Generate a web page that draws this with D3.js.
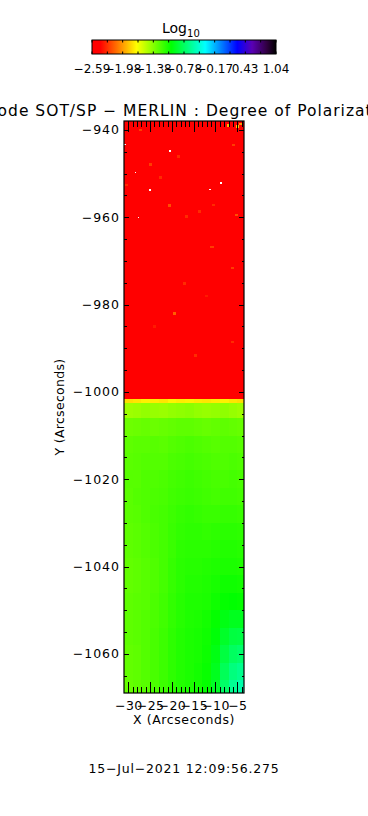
<!DOCTYPE html>
<html><head><meta charset="utf-8">
<script src="https://cdn.jsdelivr.net/npm/d3@7"></script>
<style>html,body{margin:0;padding:0;background:#fff;}svg{display:block;}text{font-family:"DejaVu Sans",sans-serif;fill:#000;}</style>
</head><body><div id="chart"></div>
<script>
// ---------------- data ----------------
const titleText = "Hinode SOT/SP \u2212 MERLIN : Degree of Polarization";
const dateText = "15\u2212Jul\u22122021  12:09:56.275";
const xLabel = "X (Arcseconds)";
const yLabel = "Y (Arcseconds)";
const xTicks = [-30, -25, -20, -15, -10, -5];
const yTicks = [-940, -960, -980, -1000, -1020, -1040, -1060];
const cbarTicks = [-2.59, -1.98, -1.38, -0.78, -0.17, 0.43, 1.04];
const cbarMin = -2.59, cbarMax = 1.04;
const xRange = [-30.99, -3.46];
const yRange = [-1068.97, -937.94];

// upper (saturated red) block
const upperTop = -937.94, upperBottom = -1001.6, upperValue = -2.56;

// lower grid: column edges (arcsec) and row edges (arcsec)
const colEdges = [-31, -29, -27, -25, -23, -21, -19, -17, -15, -13, -11, -9, -7, -5, -3];
const rowEdges = [-1001.6, -1002.6, -1006, -1010, -1014, -1018, -1022, -1026, -1030, -1034, -1038, -1042, -1046, -1050, -1054, -1058, -1062, -1066, -1070];
const lowerValues = [
  [-1.80,-1.78,-1.75,-1.76,-1.78,-1.74,-1.76,-1.75,-1.77,-1.78,-1.76,-1.75,-1.78,-1.80],
  [-1.45,-1.44,-1.42,-1.43,-1.44,-1.42,-1.41,-1.40,-1.42,-1.43,-1.42,-1.41,-1.43,-1.45],
  [-1.32,-1.31,-1.30,-1.31,-1.30,-1.29,-1.28,-1.28,-1.29,-1.30,-1.29,-1.28,-1.29,-1.30],
  [-1.28,-1.27,-1.27,-1.26,-1.27,-1.25,-1.24,-1.23,-1.24,-1.25,-1.26,-1.25,-1.25,-1.26],
  [-1.27,-1.26,-1.25,-1.25,-1.25,-1.23,-1.22,-1.21,-1.22,-1.23,-1.24,-1.24,-1.23,-1.24],
  [-1.26,-1.26,-1.24,-1.24,-1.23,-1.21,-1.20,-1.19,-1.20,-1.21,-1.22,-1.22,-1.21,-1.22],
  [-1.27,-1.25,-1.24,-1.23,-1.22,-1.20,-1.19,-1.18,-1.19,-1.20,-1.21,-1.20,-1.20,-1.21],
  [-1.27,-1.26,-1.24,-1.22,-1.21,-1.19,-1.17,-1.16,-1.17,-1.18,-1.18,-1.17,-1.17,-1.18],
  [-1.28,-1.27,-1.25,-1.23,-1.21,-1.18,-1.16,-1.15,-1.15,-1.16,-1.15,-1.14,-1.14,-1.15],
  [-1.28,-1.27,-1.25,-1.23,-1.21,-1.18,-1.15,-1.14,-1.14,-1.14,-1.13,-1.12,-1.12,-1.13],
  [-1.29,-1.28,-1.26,-1.24,-1.21,-1.17,-1.14,-1.13,-1.13,-1.12,-1.11,-1.10,-1.10,-1.11],
  [-1.29,-1.28,-1.26,-1.24,-1.21,-1.17,-1.14,-1.12,-1.12,-1.11,-1.09,-1.07,-1.07,-1.08],
  [-1.28,-1.27,-1.26,-1.23,-1.20,-1.16,-1.13,-1.11,-1.11,-1.10,-1.07,-1.04,-1.03,-1.04],
  [-1.28,-1.27,-1.25,-1.23,-1.20,-1.16,-1.13,-1.11,-1.10,-1.08,-1.04,-0.98,-0.95,-0.95],
  [-1.28,-1.27,-1.25,-1.22,-1.19,-1.15,-1.12,-1.10,-1.09,-1.07,-1.01,-0.92,-0.86,-0.85],
  [-1.29,-1.28,-1.25,-1.22,-1.19,-1.15,-1.12,-1.10,-1.09,-1.06,-0.98,-0.86,-0.78,-0.75],
  [-1.29,-1.28,-1.25,-1.22,-1.19,-1.15,-1.12,-1.10,-1.08,-1.05,-0.95,-0.80,-0.70,-0.66],
  [-1.30,-1.28,-1.26,-1.23,-1.19,-1.15,-1.12,-1.10,-1.08,-1.04,-0.93,-0.76,-0.64,-0.58]
];

// orange / yellow speckles in the red block (centre x, centre y, value)
const speckX = [-27.2, -25.0, -18.5, -20.6, -30.4, -22.7, -5.9, -5.2, -10.5, -13.6, -16.6, -19.3, -6.0, -10.8, -14.5, -6.2, -17.2, -7.0, -5.0, -4.2, -24.0, -12.0];
const speckY = [-940.0, -947.9, -946.1, -957.3, -952.6, -950.9, -943.4, -959.5, -957.2, -958.7, -959.8, -982.0, -971.6, -966.8, -991.6, -988.6, -975.1, -938.9, -939.2, -938.6, -985.0, -978.0];
const speckV = [-2.25, -2.25, -2.3, -2.2, -2.3, -2.3, -2.25, -2.2, -2.3, -2.3, -2.3, -2.15, -2.25, -2.25, -2.3, -2.3, -2.3, -1.9, -1.85, -2.0, -2.35, -2.35];
// missing (white) pixels
const whiteX = [-20.45, -28.4, -25.0, -11.3, -8.8, -27.7, -30.7];
const whiteY = [-944.8, -949.7, -953.8, -953.6, -952.2, -960.0, -943.3];

// colour table (fraction of colour bar -> colour)
const cmapPos = [0, 0.045, 0.14, 0.243, 0.43, 0.615, 0.79, 0.87, 0.95, 1];
const cmapCol = ["#ff0000", "#ff0000", "#ff7800", "#ffff00", "#00ff00", "#00ffff", "#0000ff", "#5a00b4", "#300040", "#000000"];

// ---------------- drawing ----------------
const W = 368, H = 816;
const P = {left: 124, right: 244, top: 121, bottom: 693};
const svg = d3.select("#chart").append("svg").attr("width", W).attr("height", H);

const xS = d3.scaleLinear().domain(xRange).range([P.left, P.right]);
const yS = d3.scaleLinear().domain(yRange).range([P.bottom, P.top]);
const color = d3.scaleLinear()
  .domain(cmapPos.map(p => cbarMin + p * (cbarMax - cbarMin)))
  .range(cmapCol).interpolate(d3.interpolateRgb).clamp(true);
const fmt = v => d3.format(".2f")(v).replace("-", "\u2212");
const fmtInt = v => String(v).replace("-", "\u2212");

// clip
svg.append("clipPath").attr("id", "pc").append("rect")
  .attr("x", P.left).attr("y", P.top).attr("width", P.right - P.left).attr("height", P.bottom - P.top);
const img = svg.append("g").attr("clip-path", "url(#pc)").attr("shape-rendering", "crispEdges");

img.append("rect")
  .attr("x", xS(colEdges[0])).attr("width", xS(colEdges[colEdges.length - 1]) - xS(colEdges[0]))
  .attr("y", yS(upperTop)).attr("height", yS(upperBottom) - yS(upperTop))
  .attr("fill", color(upperValue));

const cells = [];
lowerValues.forEach((row, i) => row.forEach((v, j) => cells.push({i, j, v})));
img.selectAll("rect.cell").data(cells).join("rect").attr("class", "cell")
  .attr("x", d => xS(colEdges[d.j]))
  .attr("width", d => xS(colEdges[d.j + 1]) - xS(colEdges[d.j]))
  .attr("y", d => yS(rowEdges[d.i]))
  .attr("height", d => yS(rowEdges[d.i + 1]) - yS(rowEdges[d.i]))
  .attr("fill", d => color(d.v));

const speck = speckX.map((x, k) => ({x, y: speckY[k], v: speckV[k]}));
img.selectAll("rect.sp").data(speck).join("rect").attr("class", "sp")
  .attr("x", d => xS(d.x - 0.35)).attr("width", xS(0.7) - xS(0))
  .attr("y", d => yS(d.y + 0.3)).attr("height", yS(0) - yS(0.6))
  .attr("fill", d => color(d.v));
const wh = whiteX.map((x, k) => ({x, y: whiteY[k]}));
img.selectAll("rect.wh").data(wh).join("rect").attr("class", "wh")
  .attr("x", d => xS(d.x - 0.18)).attr("width", xS(0.36) - xS(0))
  .attr("y", d => yS(d.y + 0.18)).attr("height", yS(0) - yS(0.36))
  .attr("fill", "#ffffff");

// axes
const xMinor = d3.range(-30, -3, 1);
const yMinor = d3.range(-940, -1070, -5);
function axis(gen, scale, vals, size, labels, tx, ty) {
  const a = gen(scale).tickValues(vals).tickSizeInner(size).tickSizeOuter(0).tickPadding(4)
    .tickFormat(labels ? fmtInt : "");
  const g = svg.append("g").attr("transform", `translate(${tx},${ty})`).call(a);
  g.select(".domain").remove();
  g.selectAll("line").attr("stroke", "#000").attr("shape-rendering", "crispEdges");
  g.selectAll("text").style("font-size", "12.5px").style("font-family", "DejaVu Sans")
    .style("letter-spacing", "0.4px").attr("fill", "#000");
  return g;
}
axis(d3.axisBottom, xS, xMinor, -6, false, 0, P.bottom);
axis(d3.axisBottom, xS, xTicks, -11, true, 0, P.bottom).selectAll("text").attr("y", 6).attr("dy", "0.85em");
axis(d3.axisTop, xS, xMinor, -6, false, 0, P.top);
axis(d3.axisTop, xS, xTicks, -11, false, 0, P.top);
axis(d3.axisLeft, yS, yMinor, -2.5, false, P.left, 0);
axis(d3.axisLeft, yS, yTicks, -5, true, P.left, 0).selectAll("text").attr("x", -4).style("letter-spacing", "1px");
axis(d3.axisRight, yS, yMinor, -2.5, false, P.right, 0);
axis(d3.axisRight, yS, yTicks, -5, false, P.right, 0);

svg.append("rect").attr("x", P.left).attr("y", P.top)
  .attr("width", P.right - P.left).attr("height", P.bottom - P.top)
  .attr("fill", "none").attr("stroke", "#000").attr("stroke-width", 1.2);

// titles
const cx = (P.left + P.right) / 2;
svg.append("text").attr("x", cx).attr("y", 116).attr("text-anchor", "middle")
  .style("font-size", "15.5px").style("letter-spacing", "1px").text(titleText);
svg.append("text").attr("x", cx).attr("y", 724).attr("text-anchor", "middle")
  .style("font-size", "12.5px").style("letter-spacing", "0.6px").text(xLabel);
svg.append("text").attr("transform", `translate(64,${(P.top + P.bottom) / 2}) rotate(-90)`)
  .attr("text-anchor", "middle").style("font-size", "12.5px").style("letter-spacing", "0.3px").text(yLabel);
svg.append("text").attr("x", cx).attr("y", 773).attr("text-anchor", "middle")
  .style("font-size", "12.5px").style("letter-spacing", "0.8px").text(dateText);

// colour bar
const CB = {x0: 92, x1: 276, y0: 40, y1: 54};
const grad = svg.append("defs").append("linearGradient").attr("id", "cbg");
cmapPos.forEach((p, k) => grad.append("stop").attr("offset", p).attr("stop-color", cmapCol[k]));
const cS = d3.scaleLinear().domain([cbarMin, cbarMax]).range([CB.x0, CB.x1]);
svg.append("rect").attr("x", CB.x0).attr("y", CB.y0).attr("width", CB.x1 - CB.x0).attr("height", CB.y1 - CB.y0)
  .attr("fill", "url(#cbg)").attr("stroke", "#000").attr("stroke-width", 1);
const cbMinor = d3.range(13).map(k => cbarMin + k * (cbarMax - cbarMin) / 12);
const cbg = svg.append("g");
cbg.selectAll("line.t").data(cbMinor).join("line").attr("class", "t")
  .attr("x1", d => cS(d)).attr("x2", d => cS(d)).attr("y1", CB.y0).attr("y2", CB.y0 + 2.5).attr("stroke", "#000");
cbg.selectAll("line.b").data(cbMinor).join("line").attr("class", "b")
  .attr("x1", d => cS(d)).attr("x2", d => cS(d)).attr("y1", CB.y1 - 2.5).attr("y2", CB.y1).attr("stroke", "#000");
cbg.selectAll("text").data(cbarTicks).join("text")
  .attr("x", d => cS(d)).attr("y", 73).attr("text-anchor", "middle")
  .style("font-size", "12px").text(fmt);
const lg = svg.append("text").attr("x", 162).attr("y", 33).style("font-size", "14px");
lg.append("tspan").text("Log");
lg.append("tspan").attr("dy", 3.5).style("font-size", "10px").text("10");
</script></body></html>
